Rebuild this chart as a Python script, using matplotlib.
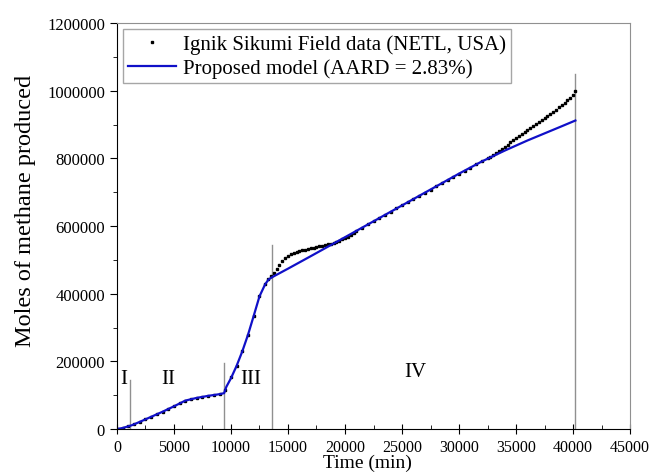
import matplotlib
matplotlib.use("Agg")
import matplotlib.pyplot as plt
from matplotlib.ticker import MultipleLocator, StrMethodFormatter

plt.rcParams["font.family"] = ["Liberation Serif", "DejaVu Serif"]

# Ignik Sikumi field data (NETL, USA): time (min), moles of methane produced
field_t = [0, 500, 1000, 1500, 2000, 2500, 3000, 3500, 4000, 4500,
           5000, 5500, 6000, 6500, 7000, 7500, 8000, 8500, 9000, 9500,
           10000, 10500, 11000, 11500, 12000, 12500, 13000, 13250, 13500, 13750,
           14000, 14250, 14500, 14750, 15000, 15250, 15500, 15750, 16000, 16250,
           16500, 16750, 17000, 17250, 17500, 17750, 18000, 18250, 18500, 18750,
           19000, 19250, 19500, 19750, 20000, 20250, 20500, 20750, 21000, 21500,
           22000, 22500, 23000, 23500, 24000, 24500, 25000, 25500, 26000, 26500,
           27000, 27500, 28000, 28500, 29000, 29500, 30000, 30500, 31000, 31500,
           32000, 32500, 32750, 33000, 33250, 33500, 33750, 34000, 34250, 34500,
           34750, 35000, 35250, 35500, 35750, 36000, 36250, 36500, 36750, 37000,
           37250, 37500, 37750, 38000, 38250, 38500, 38750, 39000, 39250, 39500,
           39750, 40000, 40200]
field_n = [0, 4000, 9000, 14000, 22000, 29000, 36000, 43000, 51000, 59000,
           67000, 76000, 84000, 88000, 92000, 95000, 98000, 101000, 104000, 115000,
           153000, 187000, 232000, 279000, 335000, 392000, 430000, 442000, 452000, 462000,
           474000, 486000, 497000, 506000, 512000, 517000, 520000, 523000, 526000, 528000,
           530000, 532000, 534000, 536000, 538000, 540000, 542000, 544000, 546000, 548000,
           551000, 554000, 557000, 561000, 565000, 569000, 575000, 580000, 586000, 595000,
           605000, 614000, 623000, 633000, 642000, 652000, 661000, 670000, 680000, 689000,
           699000, 708000, 717000, 727000, 736000, 746000, 755000, 764000, 773000, 782000,
           791000, 800000, 805000, 811000, 817000, 823000, 829000, 835000, 841000, 847000,
           853000, 859000, 865000, 871000, 877000, 883000, 889000, 895000, 901000, 907000,
           913000, 919000, 925000, 931000, 938000, 944000, 951000, 958000, 965000, 972000,
           980000, 988000, 1000000]

# Proposed model curve
model_t = [0, 500, 1100, 1300, 2000, 3000, 4000, 5000, 6000, 7000,
           8000, 9000, 9400, 9600, 10000, 10500, 11000, 11500, 12000, 12500,
           13000, 13300, 13620, 15000, 17000, 20000, 25000, 30000, 31000, 32000,
           33000, 34000, 35000, 36000, 37000, 38000, 39000, 40200]
model_n = [0, 3000, 9000, 11000, 21000, 36000, 51000, 67000, 84000, 92000,
           98000, 103000, 106000, 125000, 150000, 187000, 230000, 279000, 335000, 392000,
           428000, 442000, 449000, 474000, 511000, 567000, 661000, 755000, 773000, 791000,
           807000, 823000, 838000, 853000, 867000, 881000, 895000, 912000]

# stage boundaries (time, top of marker line) and stage labels
bound_t = [1150, 9400, 13600, 40200]
bound_top = [145000, 195000, 545000, 1050000]
stage_labels = ["I", "II", "III", "IV"]
stage_t = [600, 4500, 11750, 26150]
stage_n = [148000, 148000, 150000, 170000]

fig = plt.figure(figsize=(6.53, 4.77), dpi=100)
ax = fig.add_axes([0.179, 0.0985, 0.786, 0.851])

ax.plot(field_t, field_n, ls="none", marker="s", ms=1.7, color="black",
        label="Ignik Sikumi Field data (NETL, USA)")
ax.plot(model_t, model_n, color="#1010c8", lw=1.6,
        label="Proposed model (AARD = 2.83%)")

for bt, top in zip(bound_t, bound_top):
    ax.plot([bt, bt], [0, top], color="#909090", lw=1.0, zorder=1)

for lab, st, sn in zip(stage_labels, stage_t, stage_n):
    ax.text(st, sn, lab, fontsize=15, ha="center", va="center")

ax.set_xlim(0, 45000)
ax.set_ylim(0, 1200000)
ax.xaxis.set_major_locator(MultipleLocator(5000))
ax.xaxis.set_minor_locator(MultipleLocator(2500))
ax.yaxis.set_major_locator(MultipleLocator(200000))
ax.yaxis.set_minor_locator(MultipleLocator(100000))
ax.yaxis.set_major_formatter(StrMethodFormatter("{x:.0f}"))
ax.tick_params(axis="x", which="major", direction="inout", length=7, labelsize=11.5)
ax.tick_params(axis="x", which="minor", direction="in", length=3)
ax.tick_params(axis="y", which="major", direction="out", length=5, labelsize=12)
ax.tick_params(axis="y", which="minor", direction="out", length=3)

for side in ("top", "right"):
    ax.spines[side].set_color("#909090")

ax.set_xlabel("Time (min)", fontsize=14, labelpad=-1)
ax.xaxis.label.set_x(0.488)
ax.set_ylabel("Moles of methane produced", fontsize=17.5, labelpad=8)
ax.yaxis.label.set_y(0.54)

leg = ax.legend(loc="upper left", fontsize=15, frameon=True, fancybox=False,
                edgecolor="#909090", borderaxespad=0.3, handlelength=2.3,
                handletextpad=0.3, borderpad=0.25, labelspacing=0.2,
                markerscale=1.0)
leg.get_frame().set_linewidth(1.0)

fig.savefig("out.png", dpi=100)
